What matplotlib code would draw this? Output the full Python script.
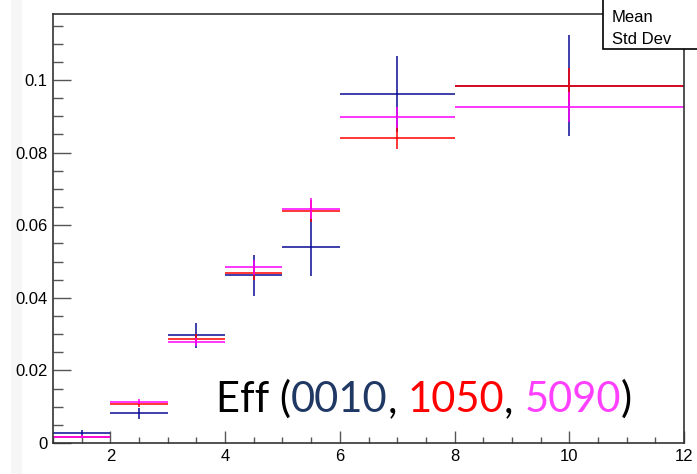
import matplotlib
matplotlib.use("Agg")
import matplotlib.pyplot as plt
from matplotlib.patches import Rectangle
from matplotlib.ticker import MultipleLocator, FuncFormatter
import numpy as np

plt.rcParams['font.family'] = ['Liberation Sans', 'DejaVu Sans']

# bins in x and efficiency per centrality class
bin_edges = [1, 2, 3, 4, 5, 6, 8, 12]
eff_0010 = [0.0027, 0.0082, 0.0297, 0.0462, 0.0539, 0.0961, 0.0985]
err_0010 = [0.0008, 0.0015, 0.0035, 0.0057, 0.0078, 0.0105, 0.0138]
eff_1050 = [0.0017, 0.0107, 0.0287, 0.0468, 0.0639, 0.0841, 0.0985]
err_1050 = [0.0004, 0.0007, 0.0012, 0.0020, 0.0030, 0.0032, 0.0047]
eff_5090 = [0.0017, 0.0114, 0.0278, 0.0484, 0.0646, 0.0897, 0.0926]
err_5090 = [0.0004, 0.0007, 0.0012, 0.0020, 0.0030, 0.0030, 0.0041]

COLORS = {'0010': '#0a0a96', '1050': '#ff0000', '5090': '#ff00ff'}
W, H = 697, 474

fig = plt.figure(figsize=(W / 100, H / 100), dpi=100)
fig.patch.set_facecolor('white')

# faint strip at the far left of the canvas
fig.add_artist(Rectangle((11 / W, 0), 11 / W, 1, transform=fig.transFigure,
                         facecolor='#f6f6f6', edgecolor='none', zorder=0))

ax = fig.add_axes([53 / W, 1 - 443 / H, (684 - 53) / W, (443 - 14) / H])

edges = np.array(bin_edges, dtype=float)
centers = 0.5 * (edges[:-1] + edges[1:])
halfw = 0.5 * (edges[1:] - edges[:-1])

for vals, errs, key in [(eff_0010, err_0010, '0010'),
                        (eff_1050, err_1050, '1050'),
                        (eff_5090, err_5090, '5090')]:
    ax.errorbar(centers, vals, xerr=halfw, yerr=errs, fmt='none',
                ecolor=COLORS[key], elinewidth=1.1, capsize=0)

ax.set_xlim(1, 12)
ax.set_ylim(0, 0.1182)

ax.xaxis.set_major_locator(MultipleLocator(2))
ax.xaxis.set_minor_locator(MultipleLocator(0.5))
ax.yaxis.set_major_locator(MultipleLocator(0.02))
ax.yaxis.set_minor_locator(MultipleLocator(0.005))
ax.yaxis.set_major_formatter(FuncFormatter(lambda v, p: '0' if abs(v) < 1e-9 else f'{v:g}'))

ax.tick_params(axis='x', which='major', direction='in', length=8.5, width=1, color='#555555',
               labelsize=12, pad=4, top=False)
ax.tick_params(axis='x', which='minor', direction='in', length=4.5, width=1, color='#555555', top=False)
ax.tick_params(axis='y', which='major', direction='in', length=13, width=1, color='#555555',
               labelsize=12, pad=4, right=False)
ax.tick_params(axis='y', which='minor', direction='in', length=7, width=1, color='#555555', right=False)

for s in ax.spines.values():
    s.set_color('#333333')
    s.set_linewidth(1.2)

# stats box, cut by the top-right corner
fig.add_artist(Rectangle((603 / W, 1 - 49 / H), 0.2, 0.2, transform=fig.transFigure,
                         facecolor='white', edgecolor='black', linewidth=1.2, zorder=10))
fig.text(612 / W, 1 - 18 / H, 'Mean', fontsize=12, va='center', ha='left', zorder=11)
fig.text(612 / W, 1 - 40 / H, 'Std Dev', fontsize=12, va='center', ha='left', zorder=11)

# big label with coloured parts
pieces = [('Eff (', 'black'), ('0010', '#203864'), (', ', 'black'),
          ('1050', '#ff0000'), (', ', 'black'), ('5090', '#ff40ff'), (')', 'black')]
fig.canvas.draw()
renderer = fig.canvas.get_renderer()
x = 216 / W
for txt, col in pieces:
    t = fig.text(x, 1 - 412 / H, txt, color=col, fontsize=30, family='Lato',
                 ha='left', va='baseline')
    bb = t.get_window_extent(renderer=renderer)
    x = (bb.x1) / W

fig.savefig('out.png', dpi=100, facecolor='white')
